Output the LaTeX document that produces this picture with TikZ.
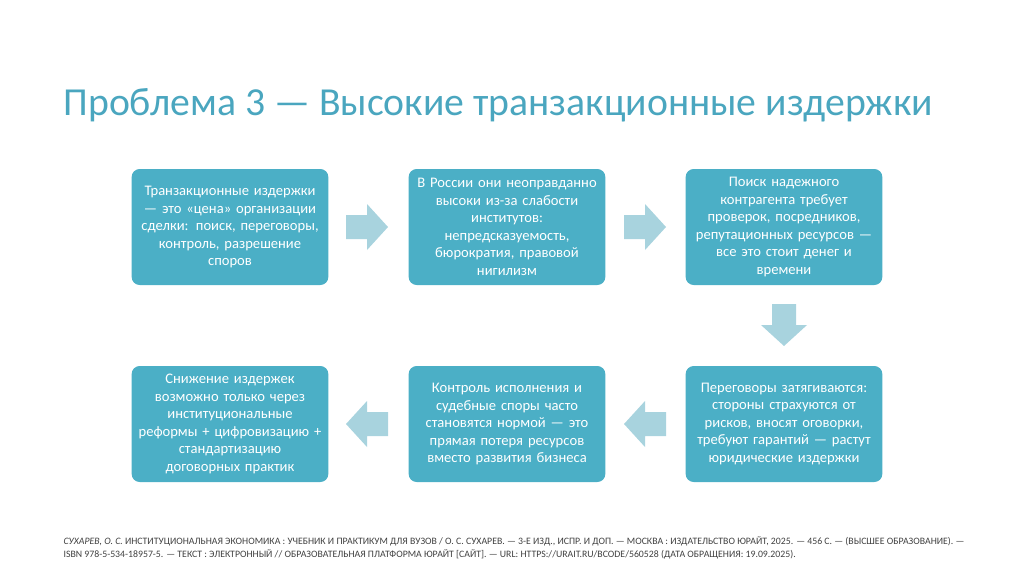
\documentclass[tikz,border=0pt]{standalone}
\usepackage{fontspec}
\setmainfont{Carlito}
\definecolor{boxc}{HTML}{4BAFC6}
\definecolor{arrc}{HTML}{A8D3DE}
\definecolor{titc}{HTML}{4AA6BF}
\begin{document}
\begin{tikzpicture}[x=1pt,y=-1pt,
 box/.style={fill=boxc,rounded corners=8pt,minimum width=195pt,minimum height=116pt,text width=190pt,align=center,text=white,font=\fontsize{14.6}{17.5}\selectfont},
 arr/.style={fill=arrc}]
\useasboundingbox (0,0) rectangle (1024,574);
\node[anchor=west,text=titc,font=\fontsize{39.7}{42}\selectfont] (title) at (60,105) {Проблема 3 — Высокие транзакционные издержки};
\node[box] (b1) at (230,227) {Транзакционные издержки\\— это «цена» организации\\сделки: поиск, переговоры,\\контроль, разрешение\\споров};
\node[box] (b2) at (507,227) {В России они неоправданно\\высоки из-за слабости\\институтов:\\непредсказуемость,\\бюрократия, правовой\\нигилизм};
\node[box] (b3) at (784,227) {Поиск надежного\\контрагента требует\\проверок, посредников,\\репутационных ресурсов —\\все это стоит денег и\\времени};
\node[box] (b4) at (784,424) {Переговоры затягиваются:\\стороны страхуются от\\рисков, вносят оговорки,\\требуют гарантий — растут\\юридические издержки};
\node[box] (b5) at (507,424) {Контроль исполнения и\\судебные споры часто\\становятся нормой — это\\прямая потеря ресурсов\\вместо развития бизнеса};
\node[box] (b6) at (230,424) {Снижение издержек\\возможно только через\\институциональные\\реформы + цифровизацию +\\стандартизацию\\договорных практик};
\foreach \cx/\cy/\r in {367/227/0, 645/227/0, 784/325/-90, 645/424/180, 367/424/180}{
 \fill[arr,shift={(\cx,\cy)},rotate=\r] (-21,-12) -- (0,-12) -- (0,-23) -- (21,0) -- (0,23) -- (0,12) -- (-21,12) -- cycle;
}
\node[anchor=north west,align=left,text=black!75,font=\fontsize{9.8}{13}\selectfont] (foot) at (60,533) {\textit{СУХАРЕВ, О. С.} ИНСТИТУЦИОНАЛЬНАЯ ЭКОНОМИКА : УЧЕБНИК И ПРАКТИКУМ ДЛЯ ВУЗОВ / О. С. СУХАРЕВ. — 3-Е ИЗД., ИСПР. И ДОП. — МОСКВА : ИЗДАТЕЛЬСТВО ЮРАЙТ, 2025. — 456 С. — (ВЫСШЕЕ ОБРАЗОВАНИЕ). —\\ISBN 978-5-534-18957-5. — ТЕКСТ : ЭЛЕКТРОННЫЙ // ОБРАЗОВАТЕЛЬНАЯ ПЛАТФОРМА ЮРАЙТ [САЙТ]. — URL: HTTPS://URAIT.RU/BCODE/560528 (ДАТА ОБРАЩЕНИЯ: 19.09.2025).};
\end{tikzpicture}
\end{document}
